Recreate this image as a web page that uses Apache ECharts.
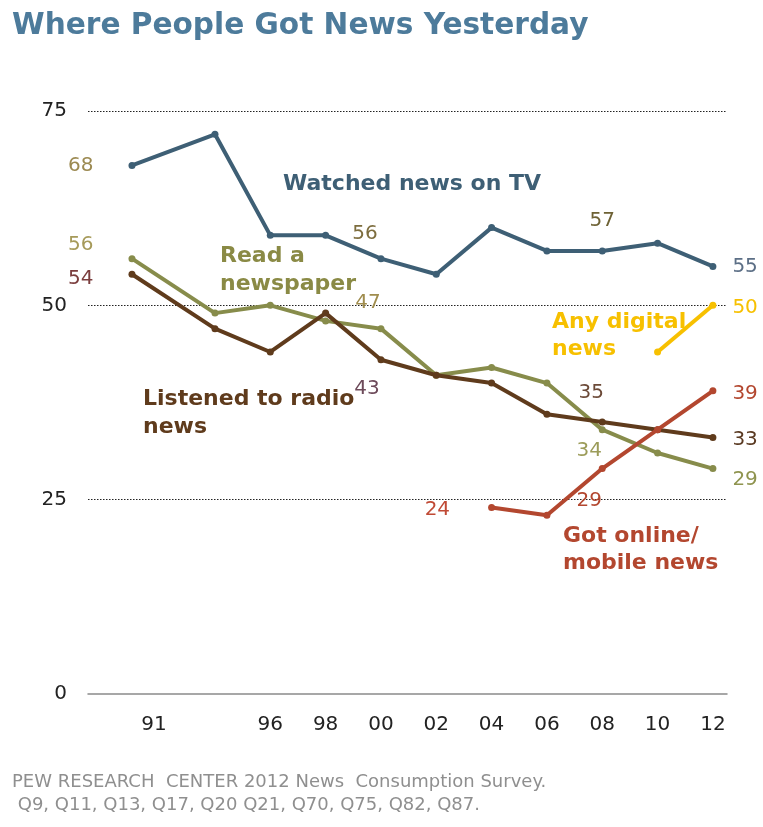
<!DOCTYPE html>
<html>
<head>
<meta charset="utf-8">
<script src="https://cdn.jsdelivr.net/npm/echarts@6/dist/echarts.min.js"></script>
<style>
  html, body { margin: 0; padding: 0; background: #fff; }
  #chart { width: 763px; height: 827px; }
</style>
</head>
<body>
<div id="chart"></div>
<script>
// Survey years and share of adults (%) who got news from each source yesterday
const years = [1991, 1994, 1996, 1998, 2000, 2002, 2004, 2006, 2008, 2010, 2012];
const tvNews = [68, 72, 59, 59, 56, 54, 60, 57, 57, 58, 55];
const newspaper = [56, 49, 50, 48, 47, 41, 42, 40, 34, 31, 29];
const radio = [54, 47, 44, 49, 43, 41, 40, 36, 35, 34, 33];
const onlineYears = [2004, 2006, 2008, 2010, 2012];
const onlineNews = [24, 23, 29, 34, 39];
const digitalYears = [2010, 2012];
const digitalNews = [44, 50];
const tickYears = [1991, 1996, 1998, 2000, 2002, 2004, 2006, 2008, 2010, 2012];
const tickLabels = ['91', '96', '98', '00', '02', '04', '06', '08', '10', '12'];

const FONT = '"DejaVu Sans", Verdana, sans-serif';
const C = {
  tv: '#3e5f75',
  paper: '#878c4b',
  radio: '#5f3b1c',
  online: '#b3472f',
  digital: '#f7c000'
};

// per-point value labels: index -> label style
function build(xs, ys, labels) {
  return ys.map((v, i) => {
    const item = { value: [xs[i], v] };
    if (labels[i]) {
      item.label = Object.assign({
        show: true,
        formatter: p => p.value[1],
        fontFamily: FONT,
        fontSize: 20
      }, labels[i]);
    }
    return item;
  });
}

const tvData = build(years, tvNews, {
  0: { position: 'left', distance: 35, color: '#9c8a52' },
  4: { position: 'top', distance: 11, offset: [-16, 0], color: '#7d6d3e' },
  8: { position: 'top', distance: 17, color: '#6e6235' },
  10: { position: 'right', distance: 16, color: '#5c6f86' }
});
const paperData = build(years, newspaper, {
  0: { position: 'left', distance: 35, offset: [0, -14], color: '#a69a5a' },
  4: { position: 'top', distance: 12, offset: [-13, 0], color: '#a08d4e' },
  8: { position: 'bottom', distance: 8, offset: [-13, 0], color: '#9c9c5a' },
  10: { position: 'right', distance: 16, offset: [0, 11], color: '#8f944f' }
});
const radioData = build(years, radio, {
  0: { position: 'left', distance: 35, offset: [0, 5], color: '#7b3e3e' },
  4: { position: 'bottom', distance: 16, offset: [-14, 0], color: '#6d4a5a' },
  8: { position: 'top', distance: 16, offset: [-11, 0], color: '#6c4a38' },
  10: { position: 'right', distance: 16, offset: [0, 2], color: '#5a3a22' }
});
const onlineData = build(onlineYears, onlineNews, {
  0: { position: 'left', distance: 38, offset: [0, 2], color: '#c04a35' },
  2: { position: 'bottom', distance: 19, offset: [-13, 0], color: '#b3472f' },
  4: { position: 'right', distance: 16, offset: [0, 3], color: '#b3472f' }
});
const digitalData = build(digitalYears, digitalNews, {
  1: { position: 'right', distance: 16, offset: [0, 2], color: '#f7c000' }
});

function lineSeries(name, color, data, z) {
  return {
    name, type: 'line', data, z,
    symbol: 'circle', symbolSize: 7,
    lineStyle: { color, width: 4 },
    itemStyle: { color },
    emphasis: { disabled: true },
    animation: false
  };
}

function text(left, top, str, color, size, lineHeight) {
  return {
    type: 'text', left, top, z: 100,
    style: { text: str, fill: color, font: `bold ${size}px ${FONT}`, lineHeight }
  };
}

const chart = echarts.init(document.getElementById('chart'), null, { renderer: 'canvas' });
chart.setOption({
  backgroundColor: '#ffffff',
  animation: false,
  grid: { left: 88, right: 36, top: 111, bottom: 133, containLabel: false },
  xAxis: {
    type: 'value',
    min: 1989.41, max: 2012.51,
    axisLine: { show: true, onZero: true, lineStyle: { color: '#8a8a8a', width: 1.5 } },
    axisTick: { show: false },
    splitLine: { show: false },
    axisLabel: {
      customValues: tickYears,
      margin: 21,
      fontFamily: FONT, fontSize: 20, color: '#222',
      formatter: v => {
        const s = tickLabels[tickYears.indexOf(v)];
        return v === 1991 ? '{first|' + s + '}' : s;
      },
      rich: { first: { padding: [0, 0, 0, 44], fontFamily: FONT, fontSize: 20, color: '#222' } }
    }
  },
  yAxis: {
    type: 'value',
    min: 0, max: 75, interval: 25,
    axisLine: { show: false },
    axisTick: { show: false },
    axisLabel: { margin: 21, fontFamily: FONT, fontSize: 20, color: '#222' },
    splitLine: { show: true, showMinLine: false, lineStyle: { color: '#222', type: [1.5, 1.5], width: 1.2 } }
  },
  series: [
    lineSeries('Watched news on TV', C.tv, tvData, 5),
    lineSeries('Read a newspaper', C.paper, paperData, 3),
    lineSeries('Listened to radio news', C.radio, radioData, 4),
    lineSeries('Got online/mobile news', C.online, onlineData, 6),
    lineSeries('Any digital news', C.digital, digitalData, 6)
  ],
  graphic: [
    text(12, 9, 'Where People Got News Yesterday', '#4d7b9b', 29.6, 35),
    text(283, 171, 'Watched news on TV', C.tv, 22, 27),
    text(220, 242, 'Read a\nnewspaper', '#8a8a45', 22, 28),
    text(143, 385, 'Listened to radio\nnews', C.radio, 22, 28),
    text(552, 309, 'Any digital\nnews', C.digital, 22, 27),
    text(563, 523, 'Got online/\nmobile news', C.online, 22, 27),
    {
      type: 'text', left: 12, top: 771, z: 100,
      style: {
        text: 'PEW RESEARCH  CENTER 2012 News  Consumption Survey.\n Q9, Q11, Q13, Q17, Q20 Q21, Q70, Q75, Q82, Q87.',
        fill: '#8f8f8f', font: `18px ${FONT}`, lineHeight: 23
      }
    }
  ]
});
</script>
</body>
</html>
